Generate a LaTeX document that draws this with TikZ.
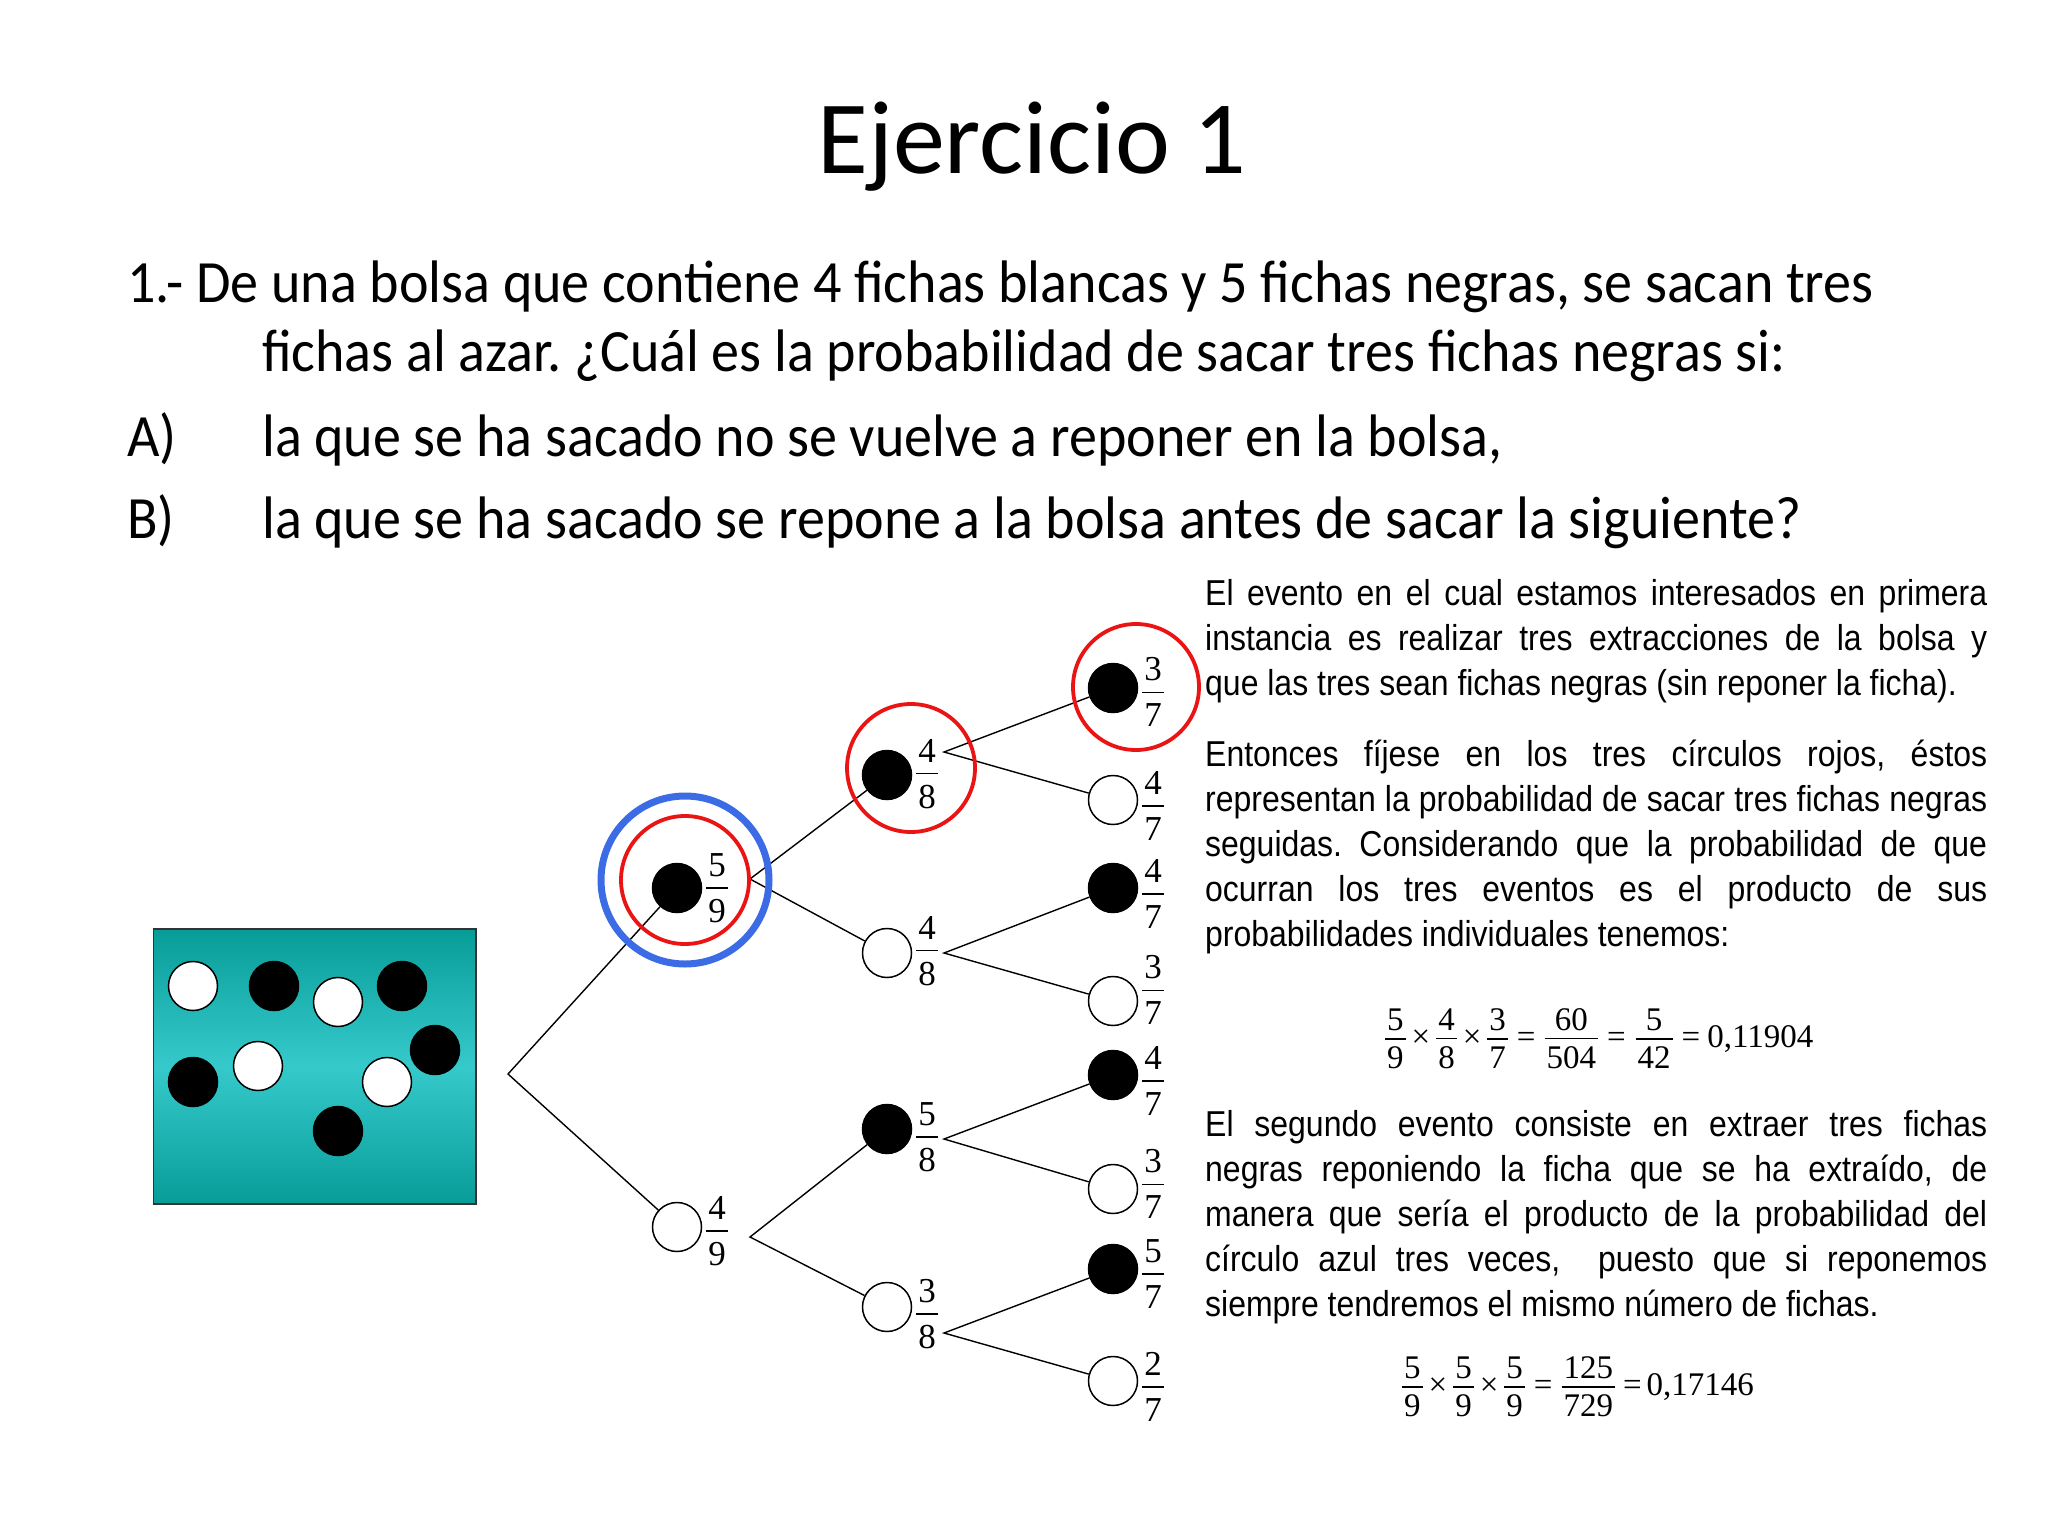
\documentclass[tikz,border=0pt]{standalone}
\usepackage{fontspec}
\setmainfont{Carlito}
\newfontfamily\qfont[FakeStretch=0.934]{Carlito}
\newfontfamily\narrow[FakeStretch=0.888]{Liberation Sans}
\newfontfamily\tms{Liberation Serif}
\frenchspacing
\definecolor{redc}{HTML}{EA1414}
\definecolor{bluec}{HTML}{3B6CE6}
\definecolor{tealdark}{HTML}{089C98}
\definecolor{teallight}{HTML}{35C9CB}
\newcommand\fr[3][10.5pt]{\vbox{\offinterlineskip\halign{\hfil\kern2pt##\kern2pt\hfil\cr #2\cr\noalign{\kern#1\hrule height 1.5pt\kern#1}#3\cr}}}
\newcommand\efr[2]{\raisebox{\dimexpr 8pt-\fontcharht\font`0-7.75pt\relax}{\fr[7pt]{#1}{#2}}}
\newcommand\jl[1]{\makebox[782pt][s]{#1}}
\tikzset{
  ball/.style={circle,draw=black,line width=1.5pt,minimum size=49pt,inner sep=0pt},
  wb/.style={ball,fill=white},
  bb/.style={ball,fill=black},
  frac/.style={inner sep=0pt,font=\tms\fontsize{35}{35}\selectfont},
  branch/.style={line width=1.4pt,black},
  redring/.style={draw=redc,line width=3.8pt},
  bluering/.style={draw=bluec,line width=7pt},
  q/.style={anchor=base west,inner sep=0pt,font=\qfont\fontsize{60}{72}\selectfont},
  rl/.style={anchor=base west,inner sep=0pt,font=\narrow\fontsize{36}{45}\selectfont},
  eq/.style={anchor=base west,inner sep=0pt,font=\tms\fontsize{33}{33}\selectfont}
}
\begin{document}
\begin{tikzpicture}[x=1pt,y=-1pt]
\useasboundingbox[fill=white] (0,0) rectangle (2048,1536);
% title and question
\node[anchor=base,inner sep=0pt,font=\fontsize{104}{120}\selectfont] (title) at (1032,173) {Ejercicio 1};
\node[q] (q1) at (127,302) {1.- De una bolsa que contiene 4 fichas blancas y 5 fichas negras, se sacan tres};
\node[q] (q2) at (262,371) {fichas al azar. ¿Cuál es la probabilidad de sacar tres fichas negras si:};
\node[q] (qa) at (127,456) {A)};
\node[q] (qat) at (262,456) {la que se ha sacado no se vuelve a reponer en la bolsa,};
\node[q] (qb) at (127,538) {B)};
\node[q] (qbt) at (262,538) {la que se ha sacado se repone a la bolsa antes de sacar la siguiente?};
% bag
\shade[top color=tealdark,bottom color=tealdark,middle color=teallight] (153.5,929) rectangle (476,1204);
\draw[line width=1.5pt,draw=black!80] (153.5,929) rectangle (476,1204);
\node[wb] (g1) at (193,986) {};
\node[bb] (g2) at (274,986) {};
\node[wb] (g3) at (338,1002) {};
\node[bb] (g4) at (402,986) {};
\node[bb] (g5) at (435,1050) {};
\node[bb] (g6) at (193,1082) {};
\node[wb] (g7) at (258,1066) {};
\node[wb] (g8) at (387,1082) {};
\node[bb] (g9) at (338,1131) {};
% tree
\coordinate (root) at (508,1074);
\node[bb] (n1) at (677,888) {};
\node[wb] (n2) at (677,1227) {};
\node[frac] (fn1) at (717,888) {\fr{5}{9}};
\node[frac] (fn2) at (717,1231) {\fr{4}{9}};
\coordinate (b1) at (750,879);
\coordinate (b2) at (750,1237);
\node[bb] (m1) at (887,775) {};
\node[wb] (m2) at (887,953) {};
\node[bb] (m3) at (887,1129) {};
\node[wb] (m4) at (887,1307) {};
\node[frac] (fm1) at (927,774) {\fr{4}{8}};
\node[frac] (fm2) at (927,951) {\fr{4}{8}};
\node[frac] (fm3) at (927,1137) {\fr{5}{8}};
\node[frac] (fm4) at (927,1314) {\fr{3}{8}};
\coordinate (c1) at (944,752);
\coordinate (c2) at (944,953);
\coordinate (c3) at (944,1139);
\coordinate (c4) at (944,1333);
\node[bb] (t1) at (1113,688) {};
\node[wb] (t2) at (1113,800) {};
\node[bb] (t3) at (1113,888) {};
\node[wb] (t4) at (1113,1001) {};
\node[bb] (t5) at (1113,1075) {};
\node[wb] (t6) at (1113,1189) {};
\node[bb] (t7) at (1113,1269) {};
\node[wb] (t8) at (1113,1381) {};
\node[frac] (ft1) at (1153,692) {\fr{3}{7}};
\node[frac] (ft2) at (1153,806) {\fr{4}{7}};
\node[frac] (ft3) at (1153,894) {\fr{4}{7}};
\node[frac] (ft4) at (1153,990) {\fr{3}{7}};
\node[frac] (ft5) at (1153,1081) {\fr{4}{7}};
\node[frac] (ft6) at (1153,1184) {\fr{3}{7}};
\node[frac] (ft7) at (1153,1274) {\fr{5}{7}};
\node[frac] (ft8) at (1153,1387) {\fr{2}{7}};
\draw[branch] (n1) -- (root) -- (n2);
\draw[branch] (m1) -- (b1) -- (m2);
\draw[branch] (m3) -- (b2) -- (m4);
\draw[branch] (t1) -- (c1) -- (t2);
\draw[branch] (t3) -- (c2) -- (t4);
\draw[branch] (t5) -- (c3) -- (t6);
\draw[branch] (t7) -- (c4) -- (t8);
% rings
\draw[bluering] (685,880) circle (84);
\draw[redring] (685,880) circle (64);
\draw[redring] (911,768) circle (64);
\draw[redring] (1136,687) circle (63);
% right text
\node[rl] (r1) at (1205,605) {\jl{El evento en el cual estamos interesados en primera}};
\node[rl] (r2) at (1205,650) {\jl{instancia es realizar tres extracciones de la bolsa y}};
\node[rl] (r3) at (1205,695) {que las tres sean fichas negras (sin reponer la ficha).};
\node[rl] (r4) at (1205,766) {\jl{Entonces fíjese en los tres círculos rojos, éstos}};
\node[rl] (r5) at (1205,811) {\jl{representan la probabilidad de sacar tres fichas negras}};
\node[rl] (r6) at (1205,856) {\jl{seguidas. Considerando que la probabilidad de que}};
\node[rl] (r7) at (1205,901) {\jl{ocurran los tres eventos es el producto de sus}};
\node[rl] (r8) at (1205,946) {probabilidades individuales tenemos:};
\node[rl] (r9) at (1205,1136) {\jl{El segundo evento consiste en extraer tres fichas}};
\node[rl] (r10) at (1205,1181) {\jl{negras reponiendo la ficha que se ha extraído, de}};
\node[rl] (r11) at (1205,1226) {\jl{manera que sería el producto de la probabilidad del}};
\node[rl] (r12) at (1205,1271) {\jl{círculo azul tres veces,\ \ puesto que si reponemos}};
\node[rl] (r13) at (1205,1316) {siempre tendremos el mismo número de fichas.};
\node[eq] (e1) at (1385,1047) {\efr{5}{9}\kern6pt×\kern6pt\efr{4}{8}\kern6pt×\kern6pt\efr{3}{7}\kern9pt=\kern9pt\efr{60}{504}\kern9pt=\kern10pt\efr{5}{42}\kern9pt=\kern7pt0,11904};
\node[eq] (e2) at (1402,1395) {\efr{5}{9}\kern6pt×\kern6pt\efr{5}{9}\kern6pt×\kern6pt\efr{5}{9}\kern9pt=\kern9pt\efr{125}{729}\kern8pt=\kern5pt0,17146};
\end{tikzpicture}
\end{document}
